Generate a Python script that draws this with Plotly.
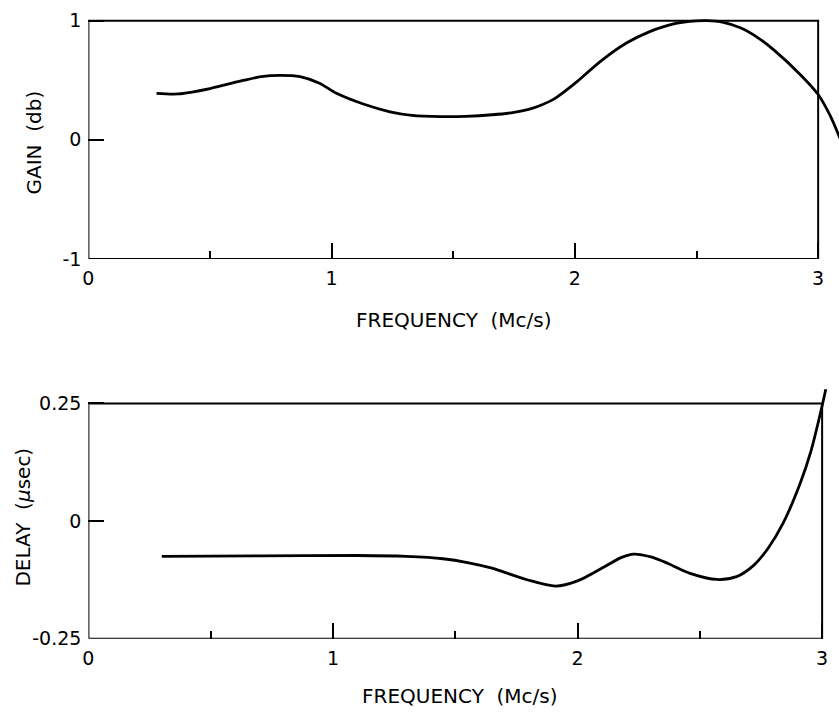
import plotly.graph_objects as go

# ---- data ----
gain_freq = [0.28, 0.37, 0.50, 0.64, 0.71, 0.79, 0.87, 0.95, 1.02, 1.13, 1.24, 1.33,
             1.45, 1.55, 1.66, 1.75, 1.81, 1.86, 1.92, 2.01, 2.10, 2.21, 2.31, 2.41, 2.50,
             2.54, 2.61, 2.68, 2.75, 2.82, 2.93, 3.00, 3.05, 3.09]
gain_db = [0.39, 0.385, 0.43, 0.50, 0.53, 0.54, 0.53, 0.475, 0.39, 0.30, 0.235, 0.205,
           0.195, 0.197, 0.21, 0.23, 0.255, 0.29, 0.35, 0.49, 0.65, 0.81, 0.91, 0.975,
           0.998, 1.00, 0.986, 0.94, 0.86, 0.75, 0.54, 0.38, 0.20, 0.01]

delay_freq = [0.30, 0.70, 1.10, 1.30, 1.45, 1.55, 1.65, 1.79, 1.91, 2.00, 2.11, 2.18,
              2.23, 2.30, 2.37, 2.46, 2.57, 2.65, 2.72, 2.78, 2.84, 2.91, 2.955, 3.00,
              3.015]
delay_us = [-0.075, -0.074, -0.073, -0.075, -0.080, -0.088, -0.100, -0.124, -0.138,
            -0.127, -0.097, -0.077, -0.070, -0.076, -0.090, -0.111, -0.124, -0.118,
            -0.094, -0.057, -0.005, 0.080, 0.150, 0.245, 0.280]

x_ticks = [0, 1, 2, 3]
x_ticktext = ["0", "1", "2", "3"]
gain_ticks = [-1, 0, 1]
gain_ticktext = ["-1", "0", "1"]
delay_ticks = [-0.25, 0, 0.25]
delay_ticktext = ["-0.25", "0", "0.25"]

W, H = 839, 724
FONT = "DejaVu Sans"

def px(x):
    return x / W

def py(y):
    return 1 - y / H

# top panel: x 0->83px, 3->818px ; y -1->259px, 1->15px
t_left, t_right3 = 83, 818
t_bot, t_top1 = 259, 15
t_xmax = (W - t_left) / ((t_right3 - t_left) / 3)
t_ymax = 1 + (t_top1 - 10) / ((t_bot - t_top1) / 2)

# bottom panel: x 0->83px, 3->822px ; y -0.25->648px, 0.25->407px
b_left, b_right3 = 83, 822
b_bot, b_top = 648, 407
b_xmax = (W - b_left) / ((b_right3 - b_left) / 3)
b_ymax = 0.25 + (b_top - 392) * 0.5 / (b_bot - b_top)

fig = go.Figure()
fig.add_trace(go.Scatter(x=gain_freq, y=gain_db, mode="lines",
                         line=dict(color="black", width=2.8, shape="spline", smoothing=0.8),
                         xaxis="x", yaxis="y", showlegend=False, hoverinfo="skip"))
fig.add_trace(go.Scatter(x=delay_freq, y=delay_us, mode="lines",
                         line=dict(color="black", width=2.8, shape="spline", smoothing=0.8),
                         xaxis="x2", yaxis="y2", showlegend=False, hoverinfo="skip"))

tickfont = dict(family=FONT, size=19, color="black")

def xaxis_cfg(left, xmax, anchor):
    return dict(domain=[px(left), 1], range=[0, xmax], anchor=anchor,
                tickmode="array", tickvals=x_ticks, ticktext=x_ticktext,
                ticks="inside", ticklen=16, tickwidth=2, tickcolor="black",
                minor=dict(ticks="inside", dtick=0.5, tick0=0, ticklen=8,
                           tickwidth=2, tickcolor="black", showgrid=False),
                showline=False, showgrid=False, zeroline=False,
                tickfont=tickfont, ticklabelstandoff=6, fixedrange=True)

def yaxis_cfg(bot, ytop_px, lo, hi, vals, text, anchor):
    return dict(domain=[py(bot), py(ytop_px)], range=[lo, hi], anchor=anchor,
                tickmode="array", tickvals=vals, ticktext=text,
                ticks="inside", ticklen=16, tickwidth=2, tickcolor="black",
                showline=False, showgrid=False, zeroline=False,
                tickfont=tickfont, ticklabelstandoff=6, fixedrange=True)

fig.update_layout(
    width=W, height=H, autosize=False,
    margin=dict(l=0, r=0, t=0, b=0),
    paper_bgcolor="white", plot_bgcolor="white",
    font=dict(family=FONT, color="black"),
    xaxis=xaxis_cfg(t_left, t_xmax, "y"),
    yaxis=yaxis_cfg(t_bot, 10, -1, t_ymax, gain_ticks, gain_ticktext, "x"),
    xaxis2=xaxis_cfg(b_left, b_xmax, "y2"),
    yaxis2=yaxis_cfg(b_bot, 392, -0.25, b_ymax, delay_ticks, delay_ticktext, "x2"),
)

# frames
fig.add_shape(type="rect", xref="x", yref="y", x0=0, x1=3, y0=-1, y1=1,
              line=dict(color="black", width=2), layer="below")
fig.add_shape(type="rect", xref="x2", yref="y2", x0=0, x1=3, y0=-0.25, y1=0.25,
              line=dict(color="black", width=2), layer="below")

titlefont = dict(family=FONT, size=20, color="black")
fig.add_annotation(text="FREQUENCY  (Mc/s)", xref="paper", yref="paper",
                   x=px(451), y=py(322), showarrow=False, font=titlefont,
                   xanchor="center", yanchor="middle")
fig.add_annotation(text="FREQUENCY  (Mc/s)", xref="paper", yref="paper",
                   x=px(457), y=py(707), showarrow=False, font=titlefont,
                   xanchor="center", yanchor="middle")
fig.add_annotation(text="GAIN  (db)", xref="paper", yref="paper",
                   x=px(28), y=py(140), showarrow=False, font=titlefont,
                   textangle=-90, xanchor="center", yanchor="middle")
fig.add_annotation(text="DELAY  (<i>μ</i>sec)", xref="paper", yref="paper",
                   x=px(17), y=py(523), showarrow=False, font=titlefont,
                   textangle=-90, xanchor="center", yanchor="middle")

fig.write_html("out.html", config={"displayModeBar": False})
